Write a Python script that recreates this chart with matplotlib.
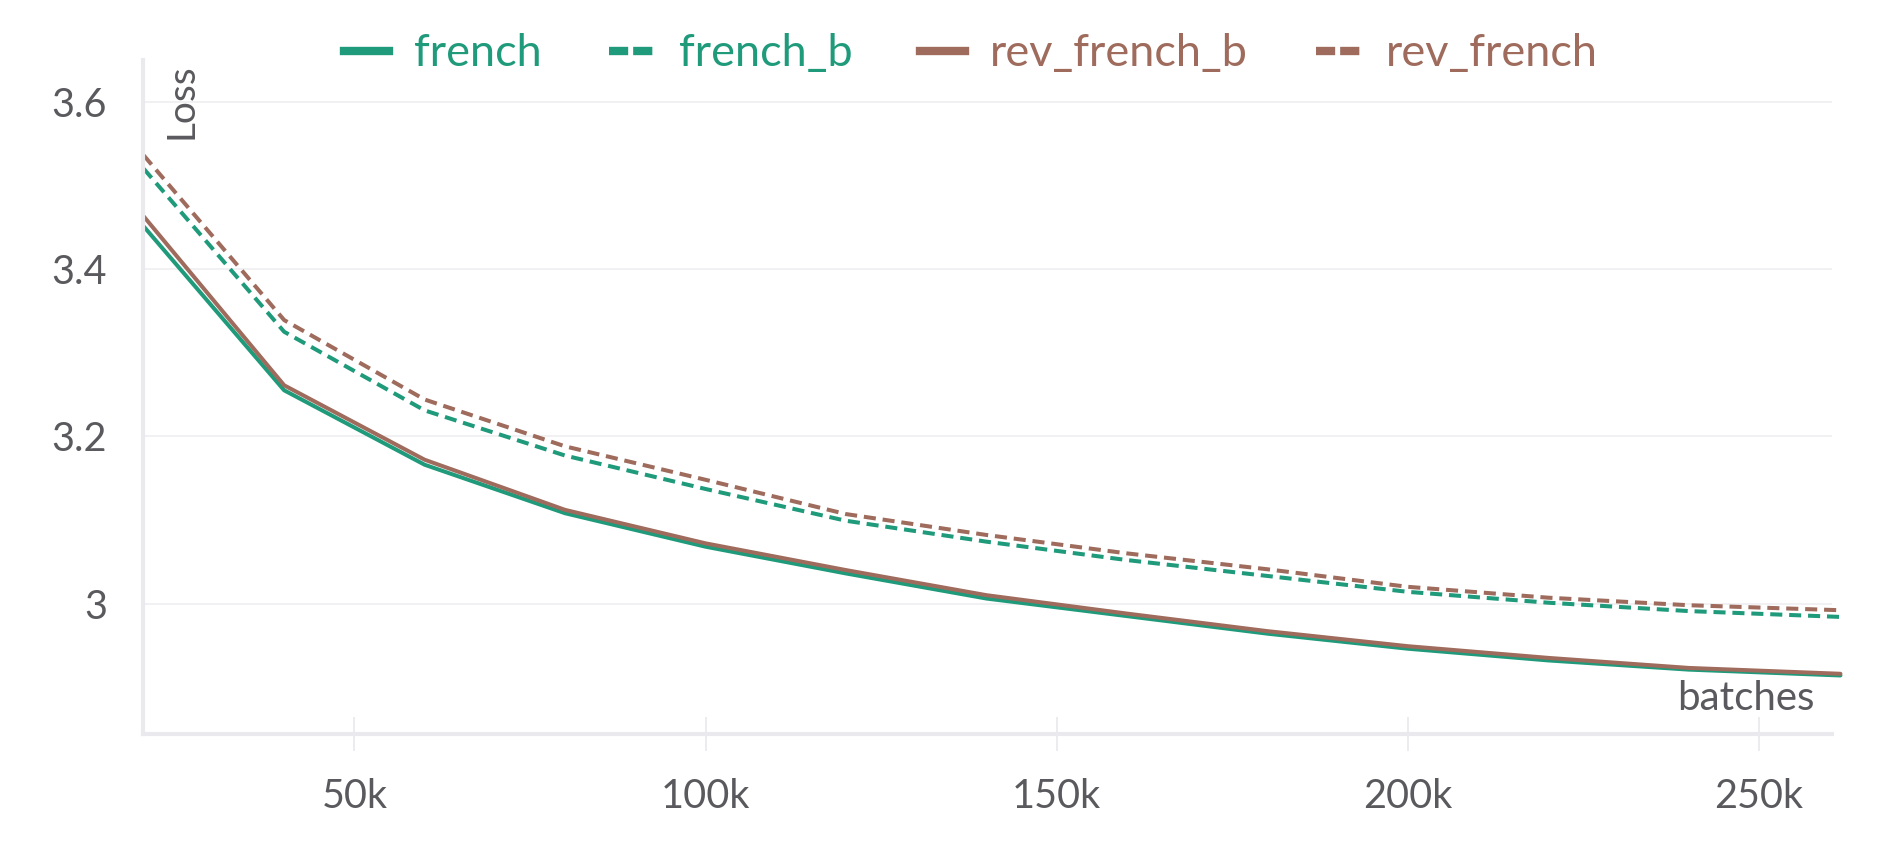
import matplotlib
matplotlib.use("Agg")
import matplotlib.pyplot as plt
from matplotlib.lines import Line2D
from matplotlib.ticker import FixedLocator, FuncFormatter

# training loss vs batches
batches = [20000, 40000, 60000, 80000, 100000, 120000, 140000, 160000,
           180000, 200000, 220000, 240000, 261600]
french = [3.451, 3.255, 3.166, 3.108, 3.068, 3.036, 3.006, 2.985,
          2.964, 2.946, 2.932, 2.921, 2.914]
french_b = [3.520, 3.325, 3.231, 3.177, 3.137, 3.099, 3.074, 3.052,
            3.033, 3.014, 3.001, 2.991, 2.984]
rev_french_b = [3.463, 3.261, 3.172, 3.112, 3.072, 3.040, 3.010, 2.988,
                2.967, 2.949, 2.935, 2.923, 2.916]
rev_french = [3.536, 3.339, 3.244, 3.188, 3.148, 3.107, 3.082, 3.060,
              3.041, 3.020, 3.007, 2.998, 2.992]

x_ticks = [50000, 100000, 150000, 200000, 250000]
y_ticks = [3.0, 3.2, 3.4, 3.6]

GREEN = '#1f9a7a'
BROWN = '#9e6b5c'
GREY = '#5a5a5e'
LIGHT = '#e9e9ee'

plt.rcParams['font.family'] = ['Lato', 'DejaVu Sans']

W, H = 1896, 863
fig = plt.figure(figsize=(W / 100, H / 100), dpi=100)
left, right, top, bottom = 143, 1832, 60, 734
ax = fig.add_axes([left / W, 1 - bottom / H, (right - left) / W, (bottom - top) / H])

series = [
    ('french', french, GREEN, '-'),
    ('french_b', french_b, GREEN, '--'),
    ('rev_french_b', rev_french_b, BROWN, '-'),
    ('rev_french', rev_french, BROWN, '--'),
]
for name, ys, col, ls in series:
    kw = dict(color=col, lw=2.9, solid_capstyle='round', clip_on=False)
    if ls == '--':
        kw.update(dashes=(3.0, 1.7), dash_capstyle='butt')
    ax.plot(batches, ys, **kw)

ax.set_xlim(19900, 260400)
ax.set_ylim(2.844, 3.65)

ax.xaxis.set_major_locator(FixedLocator(x_ticks))
ax.xaxis.set_major_formatter(FuncFormatter(lambda v, p: f'{int(v / 1000)}k'))
ax.yaxis.set_major_locator(FixedLocator(y_ticks))
ax.yaxis.set_major_formatter(FuncFormatter(lambda v, p: f'{v:g}'))

ax.tick_params(axis='x', direction='inout', length=25, width=1.2, color=LIGHT,
               labelsize=28.5, labelcolor=GREY, pad=19)
ax.tick_params(axis='y', length=0, labelsize=28.5, labelcolor=GREY, pad=26)
ax.grid(axis='y', color='#efeff2', lw=1.2)
ax.set_axisbelow(True)

for s in ['top', 'right']:
    ax.spines[s].set_visible(False)
for s in ['left', 'bottom']:
    ax.spines[s].set_color(LIGHT)
    ax.spines[s].set_linewidth(3)

ax.text(0.012, 0.995, 'Loss', transform=ax.transAxes, rotation=90,
        ha='left', va='top', fontsize=28, color=GREY)
ax.text(0.99, 0.025, 'batches', transform=ax.transAxes,
        ha='right', va='bottom', fontsize=29, color=GREY)

handles = []
for name, ys, col, ls in series:
    h = Line2D([], [], color=col, lw=6)
    if ls == '--':
        h.set_dashes((2.3, 0.6))
    handles.append(h)
leg = fig.legend(handles, [s[0] for s in series], loc='center',
                 bbox_to_anchor=(0.512, 1 - 54 / H), ncol=4, frameon=False,
                 fontsize=32.5, handlelength=1.0, handletextpad=0.55,
                 columnspacing=1.5)
for t, s in zip(leg.get_texts(), series):
    t.set_color(s[2])

fig.savefig('out.png', dpi=100)
